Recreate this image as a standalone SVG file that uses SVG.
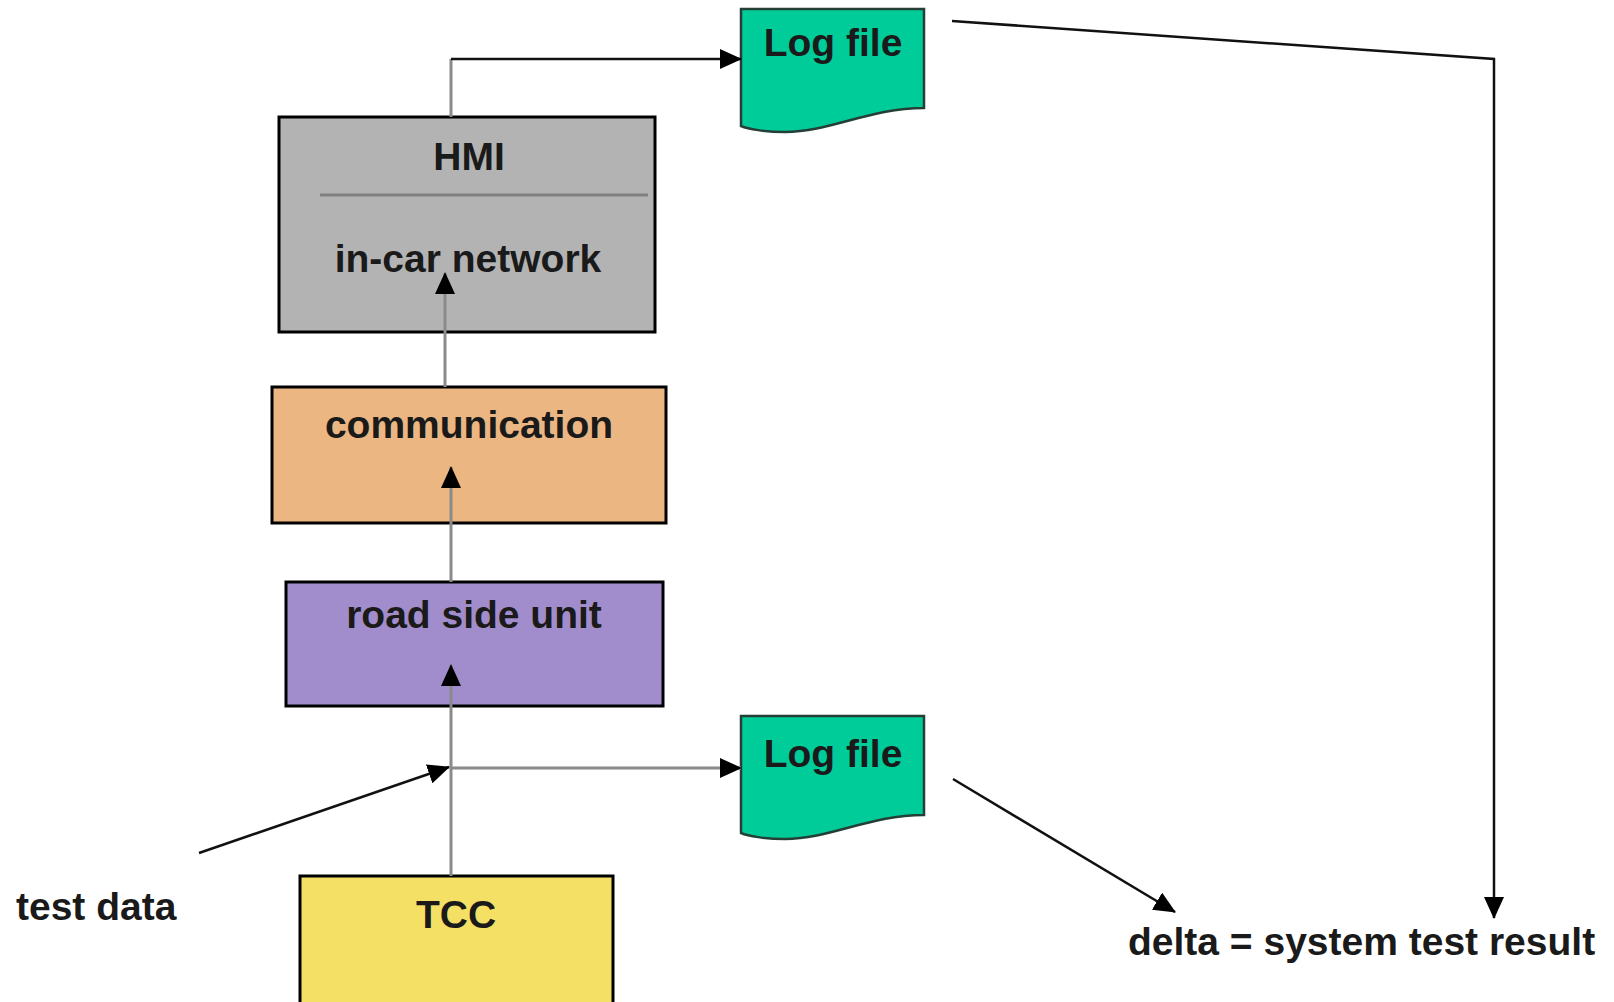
<svg xmlns="http://www.w3.org/2000/svg" width="1614" height="1002" viewBox="0 0 1614 1002">
<style>
.box{stroke:#000;stroke-width:3}
.lbl{font-family:"Liberation Sans",Arial,sans-serif;font-weight:bold;font-size:39px;fill:#1a1a1a;text-anchor:middle}
.free{font-family:"Liberation Sans",Arial,sans-serif;font-weight:bold;font-size:39px;fill:#1a1a1a}
.doc{fill:#00cc99;stroke:#243f36;stroke-width:2.5}
.g{fill:none;stroke:#8a8a8a;stroke-width:3}
.k{fill:none;stroke:#111;stroke-width:2.5}
</style>
<defs>
<marker id="ah" markerUnits="userSpaceOnUse" markerWidth="22" markerHeight="20" refX="21" refY="10" orient="auto">
<path d="M0,0 L22,10 L0,20 Z" fill="#000"/>
</marker>
</defs>
<rect width="1614" height="1002" fill="#fff"/>
<g id="hmi">
<rect class="box" x="279" y="117" width="376" height="215" fill="#b3b3b3"/>
<text class="lbl" x="469" y="170">HMI</text>
<line x1="320" y1="195" x2="648" y2="195" stroke="#808080" stroke-width="3"/>
<text class="lbl" x="468" y="272">in-car network</text>
</g>
<g id="communication">
<rect class="box" x="272" y="387" width="394" height="136" fill="#ebb682"/>
<text class="lbl" x="469" y="438">communication</text>
</g>
<g id="roadside">
<rect class="box" x="286" y="582" width="377" height="124" fill="#a28dcc"/>
<text class="lbl" x="474" y="628">road side unit</text>
</g>
<g id="tcc">
<rect class="box" x="300" y="876" width="313" height="140" fill="#f5e066"/>
<text class="lbl" x="456" y="928">TCC</text>
</g>
<g id="log1">
<path class="doc" d="M741,9 H924 V108 C870,108 830,132 785,132 C765,132 748,129 741,126 Z"/>
<text class="lbl" x="833" y="56">Log file</text>
</g>
<g id="log2">
<path class="doc" d="M741,716 H924 V815 C870,815 830,839 785,839 C765,839 748,836 741,833 Z"/>
<text class="lbl" x="833" y="767">Log file</text>
</g>
<g id="testdata">
<text class="free" x="16" y="920">test data</text>
</g>
<g id="delta">
<text class="free" x="1128" y="955">delta = system test result</text>
</g>
<g id="connectors">
<path class="g" d="M451,117 V59"/>
<path class="k" d="M451,59 H741" marker-end="url(#ah)"/>
<path class="g" d="M445,387 V273" marker-end="url(#ah)"/>
<path class="g" d="M451,582 V467" marker-end="url(#ah)"/>
<path class="g" d="M451,876 V665" marker-end="url(#ah)"/>
<path class="g" d="M451,768 H741" marker-end="url(#ah)"/>
<path class="k" d="M199,853 L449,767" marker-end="url(#ah)"/>
<path class="k" d="M953,779 L1175,912" marker-end="url(#ah)"/>
<path class="k" d="M952,21 L1494,59 V918" marker-end="url(#ah)"/>
</g>
</svg>
